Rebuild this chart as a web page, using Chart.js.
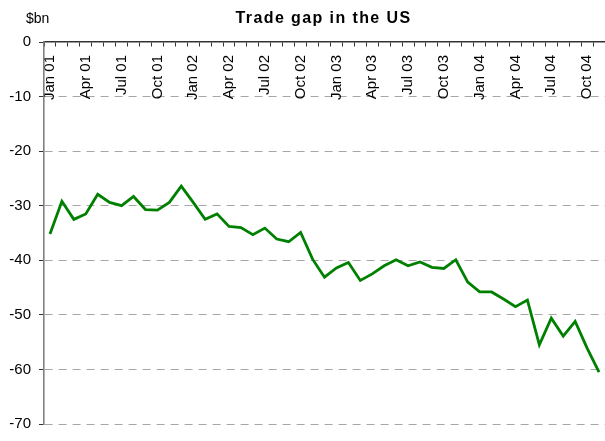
<!DOCTYPE html>
<html><head><meta charset="utf-8">
<script src="https://cdn.jsdelivr.net/npm/chart.js@4/dist/chart.umd.min.js"></script>
<style>html,body{margin:0;padding:0;background:#fff}canvas{display:block}</style>
</head><body>
<canvas id="c" width="605" height="441"></canvas>
<script>
const titleText = 'Trade gap in the US';
const unitText = '$bn';
const categories = [
  'Jan 01','Feb 01','Mar 01','Apr 01','May 01','Jun 01','Jul 01','Aug 01','Sep 01','Oct 01','Nov 01','Dec 01',
  'Jan 02','Feb 02','Mar 02','Apr 02','May 02','Jun 02','Jul 02','Aug 02','Sep 02','Oct 02','Nov 02','Dec 02',
  'Jan 03','Feb 03','Mar 03','Apr 03','May 03','Jun 03','Jul 03','Aug 03','Sep 03','Oct 03','Nov 03','Dec 03',
  'Jan 04','Feb 04','Mar 04','Apr 04','May 04','Jun 04','Jul 04','Aug 04','Sep 04','Oct 04','Nov 04'
];
const tradeGap = [
  -35.2, -29.2, -32.5, -31.5, -27.9, -29.4, -30.0, -28.3, -30.7, -30.8, -29.4, -26.4,
  -29.4, -32.5, -31.5, -33.8, -34.0, -35.3, -34.1, -36.1, -36.6, -34.9, -39.8, -43.1,
  -41.4, -40.4, -43.7, -42.5, -41.0, -39.9, -41.0, -40.3, -41.3, -41.5, -39.9, -44.0,
  -45.8, -45.8, -47.1, -48.5, -47.3, -55.5, -50.6, -53.9, -51.2, -56.1, -60.5
];
const shownLabels = ['Jan 01','Apr 01','Jul 01','Oct 01','Jan 02','Apr 02','Jul 02','Oct 02',
  'Jan 03','Apr 03','Jul 03','Oct 03','Jan 04','Apr 04','Jul 04','Oct 04'];
const yTicks = [0, -10, -20, -30, -40, -50, -60, -70];

const FONT = '"Liberation Sans", Arial, sans-serif';

const textPlugin = {
  id: 'texts',
  afterDraw(chart) {
    const {ctx, chartArea} = chart;
    ctx.save();
    ctx.fillStyle = '#000';
    ctx.font = 'bold 16px ' + FONT;
    ctx.letterSpacing = '1.4px';
    ctx.textAlign = 'center';
    ctx.textBaseline = 'alphabetic';
    ctx.fillText(titleText, (chartArea.left + chartArea.right) / 2 - 1, 22.7);
    ctx.letterSpacing = '0px';
    ctx.font = '14px ' + FONT;
    ctx.textAlign = 'left';
    ctx.fillText(unitText, 26, 23.3);
    ctx.restore();
  }
};

new Chart(document.getElementById('c'), {
  type: 'line',
  data: {
    labels: categories,
    datasets: [{
      data: tradeGap,
      borderColor: '#008000',
      borderWidth: 2.8,
      pointRadius: 0,
      tension: 0,
      fill: false
    }]
  },
  options: {
    responsive: false,
    animation: false,
    devicePixelRatio: 1,
    layout: { padding: { top: 42, left: 0, right: 0, bottom: 10 } },
    plugins: { legend: { display: false }, title: { display: false }, tooltip: { enabled: false } },
    scales: {
      x: {
        type: 'category',
        offset: true,
        position: { y: 0 },
        grid: { offset: true, drawOnChartArea: false, drawTicks: true, tickLength: 4, tickColor: '#333', tickWidth: 1 },
        border: { color: '#333', width: 1.5 },
        ticks: {
          autoSkip: false, minRotation: 90, maxRotation: 90, padding: 9, color: '#000',
          font: { family: FONT, size: 15 },
          callback: (v, i) => shownLabels.includes(categories[i]) ? categories[i] : ''
        },
        afterFit: s => { s.paddingLeft = 0; s.paddingRight = 0; s.paddingTop = 0; s.paddingBottom = 0; }
      },
      y: {
        min: -70, max: 0,
        afterBuildTicks: s => { s.ticks = yTicks.map(v => ({ value: v })); },
        afterFit: s => { s.width = 44; },
        grid: {
          color: c => (c.tick && c.tick.value === 0) ? 'rgba(0,0,0,0)' : '#a6a6a6',
          lineWidth: 1,
          tickColor: '#333',
          tickLength: 5,
          tickBorderDash: [],
          drawTicks: true
        },
        border: { color: '#808080', width: 1.6, dash: [8, 6] },
        ticks: { padding: 8, color: '#000', font: { family: FONT, size: 15 } }
      }
    }
  },
  plugins: [textPlugin]
});
</script>
</body></html>
